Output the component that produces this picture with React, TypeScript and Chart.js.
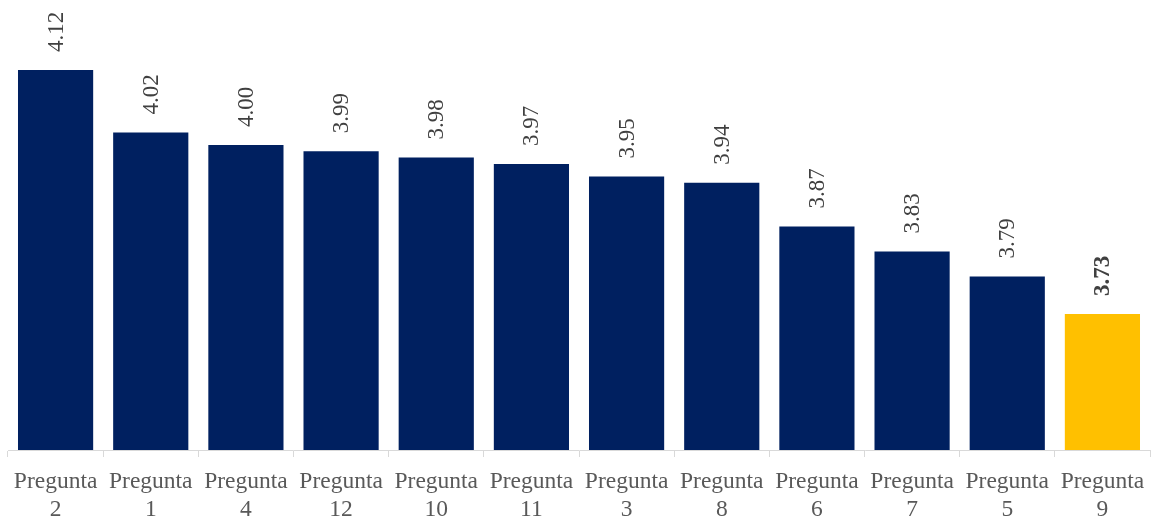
import React, { useEffect, useRef } from "react";
import { Chart, registerables } from "chart.js";

Chart.register(...registerables);

// Question labels (two lines each) and their average scores
const categories: string[][] = [
  ["Pregunta", "2"],
  ["Pregunta", "1"],
  ["Pregunta", "4"],
  ["Pregunta", "12"],
  ["Pregunta", "10"],
  ["Pregunta", "11"],
  ["Pregunta", "3"],
  ["Pregunta", "8"],
  ["Pregunta", "6"],
  ["Pregunta", "7"],
  ["Pregunta", "5"],
  ["Pregunta", "9"],
];
const scores: number[] = [4.12, 4.02, 4.0, 3.99, 3.98, 3.97, 3.95, 3.94, 3.87, 3.83, 3.79, 3.73];
const highlighted: boolean[] = [false, false, false, false, false, false, false, false, false, false, false, true];

const NAVY = "#002060";
const GOLD = "#FFC000";
const FONT = "'Liberation Serif', 'Times New Roman', serif";

// Draws each score rotated vertically above its bar
const valueLabels = {
  id: "valueLabels",
  afterDatasetsDraw(chart: any) {
    const ctx = chart.ctx;
    const meta = chart.getDatasetMeta(0);
    meta.data.forEach((bar: any, i: number) => {
      const v = scores[i];
      ctx.save();
      ctx.translate(bar.x, bar.y - 18);
      ctx.rotate(-Math.PI / 2);
      ctx.font = `${highlighted[i] ? "bold " : ""}23px ${FONT}`;
      ctx.fillStyle = "#404040";
      ctx.textAlign = "left";
      ctx.textBaseline = "middle";
      ctx.fillText(v.toFixed(2), 0, 1);
      ctx.restore();
    });
  },
};

export default function App() {
  const canvasRef = useRef<HTMLCanvasElement | null>(null);

  useEffect(() => {
    document.body.style.margin = "0";
    const canvas = canvasRef.current;
    if (!canvas) return;
    const chart = new Chart(canvas, {
      type: "bar",
      data: {
        labels: categories,
        datasets: [
          {
            data: scores,
            backgroundColor: highlighted.map((h) => (h ? GOLD : NAVY)),
            borderWidth: 0,
            categoryPercentage: 1,
            barPercentage: 0.79,
          },
        ],
      },
      plugins: [valueLabels],
      options: {
        responsive: false,
        animation: false,
        maintainAspectRatio: false,
        layout: { padding: { top: 20, left: 8, right: 3, bottom: 0 } },
        plugins: {
          legend: { display: false },
          tooltip: { enabled: false },
        },
        scales: {
          x: {
            offset: true,
            grid: {
              offset: true,
              drawOnChartArea: false,
              drawTicks: true,
              tickLength: 7,
              color: "#d9d9d9",
            },
            border: { display: true, color: "#d9d9d9", width: 1 },
            ticks: {
              color: "#595959",
              font: { family: FONT, size: 23.5, lineHeight: 1.2 },
              padding: 11,
              maxRotation: 0,
              autoSkip: false,
            },
            afterFit(scale: any) {
              scale.height = 67;
              // the outer labels fit inside their category slots
              scale.paddingLeft = 0;
              scale.paddingRight = 0;
            },
          },
          y: {
            display: false,
            min: 3.5126,
            max: 4.2,
          },
        },
      },
    });
    return () => chart.destroy();
  }, []);

  return (
    <div style={{ width: 1153, height: 517 }}>
      <canvas ref={canvasRef} width={1153} height={517} style={{ display: "block" }} />
    </div>
  );
}
